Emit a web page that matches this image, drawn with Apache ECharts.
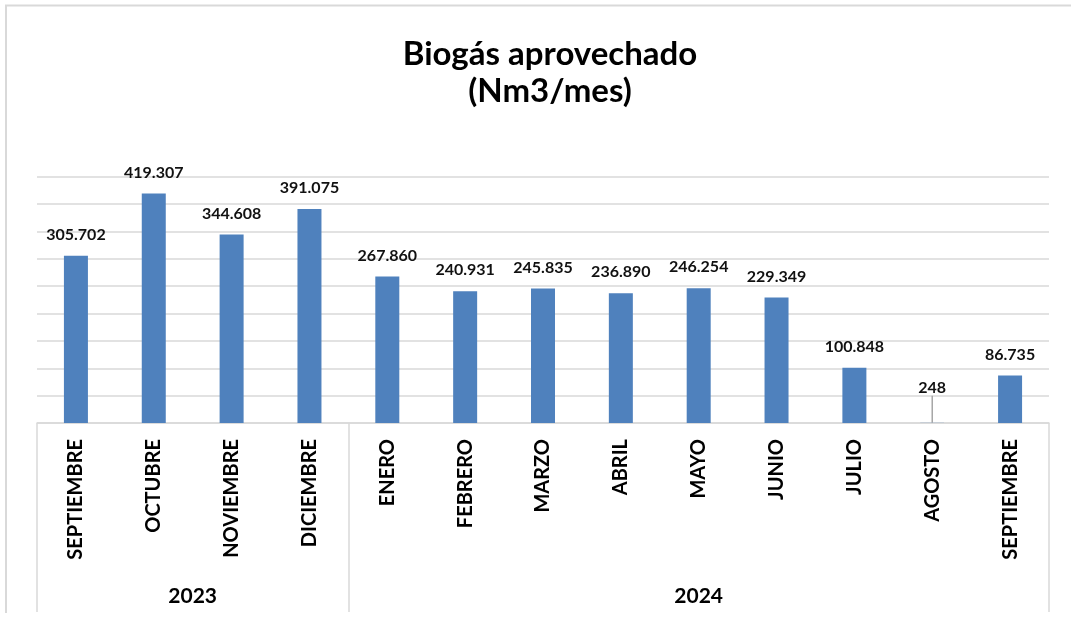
<!DOCTYPE html>
<html>
<head>
<meta charset="utf-8">
<script src="https://cdn.jsdelivr.net/npm/echarts@6/dist/echarts.min.js"></script>
<style>
html,body{margin:0;padding:0;background:#fff;}
#chart{width:1071px;height:624px;}
</style>
</head>
<body>
<div id="chart"></div>
<script>
// ---- data ----
const titleLines = ['Biogás aprovechado', '(Nm3/mes)'];
const months = ['SEPTIEMBRE','OCTUBRE','NOVIEMBRE','DICIEMBRE','ENERO','FEBRERO','MARZO','ABRIL','MAYO','JUNIO','JULIO','AGOSTO','SEPTIEMBRE'];
const years  = ['2023','2023','2023','2023','2024','2024','2024','2024','2024','2024','2024','2024','2024'];
const values = [305702, 419307, 344608, 391075, 267860, 240931, 245835, 236890, 246254, 229349, 100848, 248, 86735];
const yMax = 450000;
const yStep = 50000;

// ---- derived ----
function fmt(v){ return String(v).replace(/\B(?=(\d{3})+(?!\d))/g, '.'); }

// year groups -> half-band slots (2*n+1 slots on a boundaryGap:false axis)
const groups = [];
years.forEach((y, i) => {
  if (!groups.length || groups[groups.length-1].year !== y) groups.push({year: y, start: i, count: 0});
  groups[groups.length-1].count++;
});
const nSlots = months.length * 2 + 1;
const slotLabel = {};
const boundarySlots = new Set([nSlots - 1]);
groups.forEach(g => {
  slotLabel[g.start * 2 + g.count] = g.year;
  boundarySlots.add(g.start * 2);
});
const slots = Array.from({length: nSlots}, (_, i) => 's' + i);

const tinyLimit = yMax * 0.01;
const barData = values.map(v => v < tinyLimit
  ? {value: v, labelLine: {show: true}}
  : v);

const FONT = 'Lato';
const chart = echarts.init(document.getElementById('chart'), null, {renderer: 'canvas'});
chart.setOption({
  animation: false,
  backgroundColor: '#ffffff',
  textStyle: {fontFamily: FONT},
  title: {
    text: titleLines.join('\n'),
    left: 545,
    top: 31,
    textAlign: 'center',
    textStyle: {fontFamily: FONT, fontWeight: 'bold', fontSize: 33, lineHeight: 37, color: '#000'}
  },
  graphic: [{
    type: 'polyline',
    silent: true,
    shape: {points: [[6, 613], [6, 5.5], [1071, 5.5]]},
    style: {stroke: '#d9d9d9', lineWidth: 2, fill: null}
  }],
  grid: {left: 37, right: 22, top: 176.7, bottom: 201, containLabel: false},
  xAxis: [{
    type: 'category',
    position: 'bottom',
    data: months,
    axisLine: {show: true, lineStyle: {color: '#d9d9d9', width: 1.5}},
    axisTick: {show: false},
    axisLabel: {
      interval: 0, rotate: 90, margin: 16,
      fontFamily: FONT, fontWeight: 'bold', fontSize: 20, color: '#000'
    }
  }, {
    type: 'category',
    position: 'bottom',
    boundaryGap: false,
    data: slots,
    axisLine: {show: false},
    axisTick: {
      show: true, inside: false, length: 189,
      interval: (i) => boundarySlots.has(i),
      lineStyle: {color: '#d9d9d9', width: 1.5}
    },
    axisLabel: {
      interval: 0, margin: 163,
      formatter: (v, i) => slotLabel[i] || '',
      fontFamily: FONT, fontWeight: 'bold', fontSize: 21, color: '#000'
    }
  }],
  yAxis: {
    type: 'value',
    min: 0, max: yMax, interval: yStep,
    axisLine: {show: false},
    axisTick: {show: false},
    axisLabel: {show: false},
    splitLine: {show: true, lineStyle: {color: '#d9d9d9', width: 1.5}}
  },
  series: [{
    type: 'bar',
    xAxisIndex: 0,
    data: barData,
    barWidth: 24,
    itemStyle: {color: '#4f81bd'},
    label: {
      show: true, position: 'top', distance: 13,
      formatter: p => fmt(p.value),
      fontFamily: FONT, fontWeight: 'bold', fontSize: 16, color: '#111'
    },
    labelLayout: (p) => (values[p.dataIndex] < tinyLimit ? {dy: -14} : {}),
    labelLine: {show: false, lineStyle: {color: '#a6a6a6', width: 1.5}}
  }]
});
</script>
</body>
</html>
